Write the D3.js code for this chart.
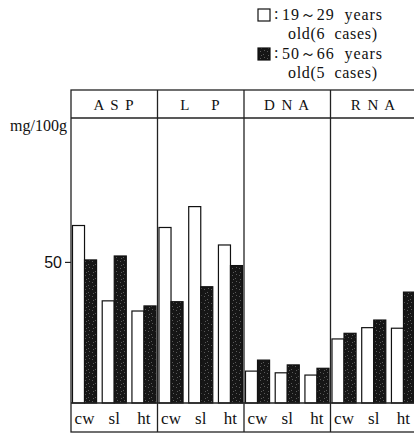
<!DOCTYPE html>
<html>
<head>
<meta charset="utf-8">
<script src="https://cdn.jsdelivr.net/npm/d3@7"></script>
<style>
  body { margin: 0; background: #fff; }
  text { font-family: "Liberation Serif", "DejaVu Serif", serif; fill: #111; }
</style>
</head>
<body>
<script>
// panels and sites
const panels = ["ASP", "LP", "DNA", "RNA"];
const panelLabels = ["A S P", "L    P", "D N A", "R N A"];
const sites = ["cw", "sl", "ht"];
const groups = ["young", "old"];

// mg/100g (panel order, then cw, sl, ht)
const youngValues = [
  [62.9, 36.2, 32.6],
  [62.2, 69.6, 56.0],
  [11.3, 10.7, 9.9],
  [22.7, 26.7, 26.5]
];
const oldValues = [
  [50.7, 52.1, 34.4],
  [35.9, 41.2, 48.7],
  [15.2, 13.5, 12.3],
  [24.7, 29.4, 39.3]
];

const yTicks = [50];
const legendLines = [
  ["19～29  years", "old(6  cases)"],
  ["50～66  years", "old(5  cases)"]
];

const w = 414;
const h = 433;

const left = 71;
const right = 417;
const frameTop = 90;
const headerBottom = 118;
const base = 403;
const frameBottom = 432;

const svg = d3.select('body')
  .append('svg')
  .attr('width', w)
  .attr('height', h);

// speckled dark fill like the print
const defs = svg.append('defs');
const pat = defs.append('pattern')
  .attr('id', 'speckle')
  .attr('patternUnits', 'userSpaceOnUse')
  .attr('width', 7)
  .attr('height', 7);
pat.append('rect').attr('width', 7).attr('height', 7).attr('fill', '#161616');
[[1, 2], [4, 5], [5, 1], [2, 6]].forEach(p => {
  pat.append('rect')
    .attr('x', p[0]).attr('y', p[1])
    .attr('width', 1).attr('height', 1)
    .attr('fill', '#5a5a5a');
});

const xPanel = d3.scaleBand()
  .domain(panels)
  .range([left, right]);

const xSite = d3.scaleBand()
  .domain(sites)
  .range([0, xPanel.bandwidth()])
  .paddingInner(0.19)
  .paddingOuter(0.05);

const xGroup = d3.scaleBand()
  .domain(groups)
  .range([0, xSite.bandwidth()]);

const y = d3.scaleLinear()
  .domain([0, 101])
  .range([base, headerBottom]);

// bars
const rows = [];
panels.forEach((p, i) => {
  sites.forEach((s, j) => {
    rows.push({ panel: p, site: s, group: 'young', value: youngValues[i][j] });
    rows.push({ panel: p, site: s, group: 'old', value: oldValues[i][j] });
  });
});

svg.append('g')
  .selectAll('rect')
  .data(rows)
  .enter()
  .append('rect')
  .attr('x', d => xPanel(d.panel) + xSite(d.site) + xGroup(d.group))
  .attr('y', d => y(d.value))
  .attr('width', xGroup.bandwidth())
  .attr('height', d => base - y(d.value))
  .attr('fill', d => d.group === 'young' ? '#fff' : 'url(#speckle)')
  .attr('stroke', '#111')
  .attr('stroke-width', 1.2);

// frame
const frame = svg.append('g')
  .attr('stroke', '#222')
  .attr('stroke-width', 1.3)
  .attr('fill', 'none');

frame.append('rect')
  .attr('x', left)
  .attr('y', frameTop)
  .attr('width', right - left + 2)
  .attr('height', frameBottom - frameTop);

frame.append('line')
  .attr('x1', left).attr('x2', right + 2)
  .attr('y1', headerBottom).attr('y2', headerBottom);

frame.append('line')
  .attr('x1', left).attr('x2', right + 2)
  .attr('y1', base).attr('y2', base);

frame.selectAll('.divider')
  .data(panels.slice(1))
  .enter()
  .append('line')
  .attr('class', 'divider')
  .attr('x1', d => xPanel(d)).attr('x2', d => xPanel(d))
  .attr('y1', frameTop).attr('y2', frameBottom);

// panel headers
svg.selectAll('.head')
  .data(panels)
  .enter()
  .append('text')
  .attr('class', 'head')
  .attr('x', d => xPanel(d) + xPanel.bandwidth() / 2)
  .attr('y', 110)
  .attr('text-anchor', 'middle')
  .style('font-size', '15px')
  .style('letter-spacing', '1.5px')
  .style('white-space', 'pre')
  .text((d, i) => panelLabels[i]);

// site labels under each group
const siteRows = [];
panels.forEach(p => sites.forEach(s => siteRows.push({ panel: p, site: s })));

svg.selectAll('.site')
  .data(siteRows)
  .enter()
  .append('text')
  .attr('class', 'site')
  .attr('x', d => xPanel(d.panel) + xSite(d.site) + xSite.bandwidth() / 2)
  .attr('y', 424)
  .attr('text-anchor', 'middle')
  .style('font-size', '17px')
  .text(d => d.site);

// y axis (only the 50 tick is printed)
const yAxis = d3.axisLeft(y)
  .tickValues(yTicks)
  .tickSize(6)
  .tickPadding(3)
  .tickFormat(d3.format('d'));

const ya = svg.append('g')
  .attr('transform', 'translate(' + left + ',0)')
  .call(yAxis);
ya.select('.domain').remove();
ya.selectAll('line').attr('stroke', '#222').attr('stroke-width', 1.2);
ya.selectAll('text')
  .style('font-family', '"Liberation Sans Narrow", "Liberation Sans", sans-serif')
  .style('font-size', '16px')
  .attr('fill', '#111');

svg.append('text')
  .attr('x', 67)
  .attr('y', 131)
  .attr('text-anchor', 'end')
  .style('font-size', '16px')
  .text('mg/100g');

// legend
const legend = svg.append('g').attr('id', 'legend');
groups.forEach((g, i) => {
  const top = 9 + i * 39;
  legend.append('rect')
    .attr('x', 258)
    .attr('y', top)
    .attr('width', 12)
    .attr('height', 12)
    .attr('fill', g === 'young' ? '#fff' : 'url(#speckle)')
    .attr('stroke', '#111')
    .attr('stroke-width', 1.2);
  legend.append('text')
    .attr('x', 274)
    .attr('y', top + 10)
    .style('font-size', '16px')
    .text(':');
  legend.append('text')
    .attr('x', 282)
    .attr('y', top + 11)
    .attr('textLength', 100)
    .attr('lengthAdjust', 'spacing')
    .style('font-size', '16px')
    .style('white-space', 'pre')
    .text(legendLines[i][0]);
  legend.append('text')
    .attr('x', 288)
    .attr('y', top + 30)
    .attr('textLength', 89)
    .attr('lengthAdjust', 'spacing')
    .style('font-size', '16px')
    .style('white-space', 'pre')
    .text(legendLines[i][1]);
});
</script>
</body>
</html>
